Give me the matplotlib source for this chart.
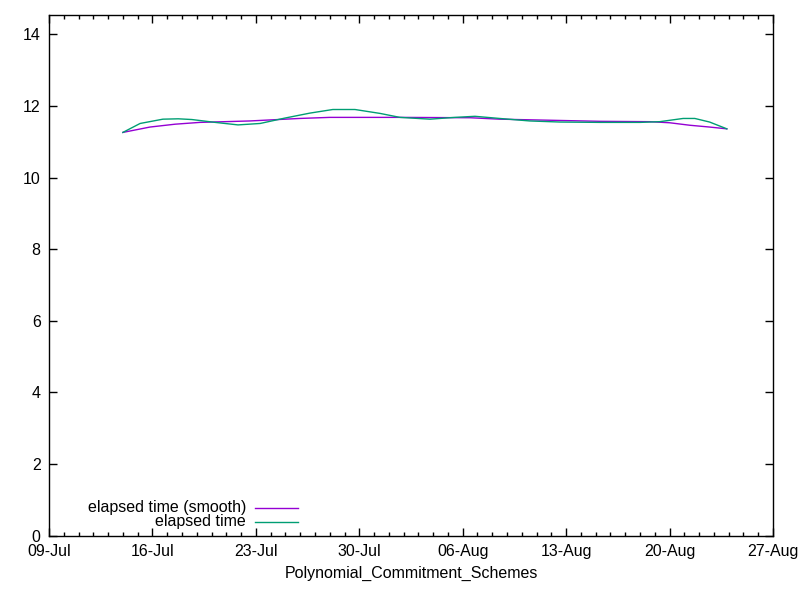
import matplotlib
matplotlib.use("Agg")
import matplotlib.pyplot as plt
import matplotlib.dates as mdates
from matplotlib.lines import Line2D
import pandas as pd

plt.rcParams['font.family'] = ['Liberation Sans', 'DejaVu Sans']

# elapsed time (raw series)
raw_dates = [
    "2023-07-14 00:00", "2023-07-15 04:00", "2023-07-16 17:00", "2023-07-17 18:00",
    "2023-07-18 16:00", "2023-07-20 06:00", "2023-07-21 19:00", "2023-07-23 07:00",
    "2023-07-24 23:00", "2023-07-26 16:00", "2023-07-28 05:00", "2023-07-29 17:00",
    "2023-07-31 10:00", "2023-08-01 18:00", "2023-08-03 19:00", "2023-08-05 11:00",
    "2023-08-06 20:00", "2023-08-08 12:00", "2023-08-10 13:00", "2023-08-12 14:00",
    "2023-08-15 07:00", "2023-08-18 00:00", "2023-08-19 08:00", "2023-08-20 22:00",
    "2023-08-21 17:00", "2023-08-22 17:00", "2023-08-23 21:00",
]
raw_values = [
    11.26, 11.51, 11.63, 11.64, 11.62, 11.54, 11.47, 11.51,
    11.66, 11.80, 11.90, 11.90, 11.79, 11.68, 11.63, 11.68,
    11.71, 11.65, 11.58, 11.55, 11.54, 11.54, 11.56, 11.65,
    11.65, 11.55, 11.36,
]

# elapsed time (smooth)
smooth_dates = [
    "2023-07-14 00:00", "2023-07-15 20:00", "2023-07-17 13:00", "2023-07-19 05:00",
    "2023-07-22 14:00", "2023-07-25 23:00", "2023-07-28 00:00", "2023-08-01 18:00",
    "2023-08-06 12:00", "2023-08-08 12:00", "2023-08-11 22:00", "2023-08-15 07:00",
    "2023-08-18 16:00", "2023-08-20 00:00", "2023-08-21 09:00", "2023-08-22 17:00",
    "2023-08-23 21:00",
]
smooth_values = [
    11.26, 11.41, 11.49, 11.54, 11.58, 11.65, 11.68, 11.68,
    11.67, 11.63, 11.60, 11.57, 11.56, 11.53, 11.46, 11.41,
    11.36,
]

raw_x = pd.to_datetime(raw_dates)
smooth_x = pd.to_datetime(smooth_dates)

fig = plt.figure(figsize=(8, 6), dpi=100)
ax = fig.add_axes([49 / 800, 1 - 535.5 / 600, 724 / 800, 520.5 / 600])

purple = "#9400d3"
green = "#009e73"

ax.plot(smooth_x, smooth_values, color=purple, lw=1)
ax.plot(raw_x, raw_values, color=green, lw=1)

x0 = pd.Timestamp("2023-07-09")
x1 = pd.Timestamp("2023-08-27")
ax.set_xlim(x0, x1)
ax.set_ylim(0, 14.54)
ax.set_yticks(range(0, 15, 2))

ax.set_xticks(pd.date_range(x0, x1, freq="7D"))
ax.xaxis.set_major_formatter(mdates.DateFormatter("%d-%b"))
ax.xaxis.set_minor_locator(mdates.DayLocator())

fs = 11.5
ax.tick_params(which="both", direction="in", top=True, right=True, labelsize=fs, pad=6)
ax.tick_params(which="major", length=6, width=1)
ax.tick_params(which="minor", length=3, width=1)
ax.tick_params(axis="y", which="minor", left=False, right=False)
for s in ax.spines.values():
    s.set_linewidth(1)

ax.set_xlabel("Polynomial_Commitment_Schemes", fontsize=fs, labelpad=5)

# gnuplot-style key, bottom left, text right-aligned with sample after it
labels = ["elapsed time (smooth)", "elapsed time"]
colors = [purple, green]
ys = [0.053, 0.026]
for lab, c, y in zip(labels, colors, ys):
    ax.text(0.272, y, lab, transform=ax.transAxes, ha="right", va="center", fontsize=fs)
    ax.add_line(Line2D([0.285, 0.344], [y, y], transform=ax.transAxes, color=c, lw=1))

fig.savefig("out.png", dpi=100)
